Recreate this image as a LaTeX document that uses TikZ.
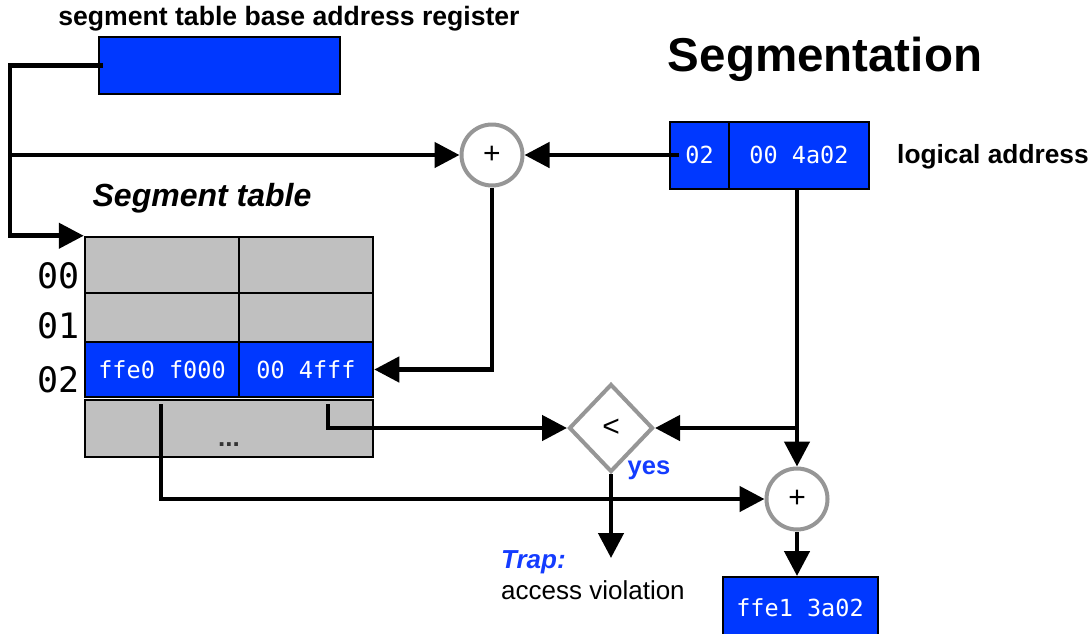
\documentclass[tikz,border=0pt]{standalone}
\usepackage{fontspec}
\setmainfont{Liberation Sans}
\newfontfamily\monof{DejaVu Sans Mono}
\usetikzlibrary{arrows.meta,shapes.geometric}
\definecolor{boxblue}{RGB}{0,56,255}
\definecolor{txtblue}{RGB}{20,60,255}
\definecolor{cellgray}{RGB}{192,192,192}
\definecolor{ringgray}{RGB}{150,150,150}
\tikzset{
  bluebox/.style={draw=black, line width=2pt, fill=boxblue, inner sep=0pt, text=white, font=\monof\fontsize{23.5}{24}\selectfont},
  graycell/.style={draw=black, line width=2.5pt, fill=cellgray, inner sep=0pt},
  bluecell/.style={draw=black, line width=2.5pt, fill=boxblue, inner sep=0pt, text=white, font=\monof\fontsize{23.5}{24}\selectfont},
  ring/.style={circle, draw=ringgray, line width=4pt, fill=white, minimum size=61pt, inner sep=0pt, font=\fontsize{30}{30}\selectfont},
  diam/.style={diamond, draw=ringgray, line width=4pt, fill=white, minimum width=84pt, minimum height=88pt, inner sep=0pt, font=\fontsize{30}{30}\selectfont},
  conn/.style={line width=4.6pt, draw=black},
  arr/.style={conn, -{Triangle[length=25pt,width=25pt]}},
  rowlab/.style={anchor=east, inner sep=0pt, font=\monof\fontsize{35}{35}\selectfont},
}
\begin{document}
\begin{tikzpicture}[x=1pt,y=-1pt]
\clip (0,0) rectangle (1091,633);
\fill[white] (0,0) rectangle (1091,633);

% texts
\node[font=\bfseries\fontsize{26.6}{26.6}\selectfont] (ttl) at (289,19) {segment table base address register};
\node[font=\bfseries\fontsize{47.5}{47.5}\selectfont] (seg) at (825,59) {Segmentation};
\node[font=\bfseries\fontsize{26.3}{26.3}\selectfont, anchor=west, inner sep=0pt] (la) at (897,157) {logical address};
\node[font=\bfseries\itshape\fontsize{32}{32}\selectfont] (stt) at (202,198) {Segment table};

% base register
\node[bluebox, minimum width=241pt, minimum height=57pt] (reg) at (219.5,65.5) {};

% logical address
\node[bluebox, minimum width=60pt, minimum height=67pt] (a1) at (699.5,155) {02};
\node[bluebox, minimum width=140pt, minimum height=67pt] (a2) at (799,155) {00 4a02};

% segment table
\node[graycell, minimum width=154pt, minimum height=56pt] (r0a) at (162,265) {};
\node[graycell, minimum width=134pt, minimum height=56pt] (r0b) at (306,265) {};
\node[graycell, minimum width=154pt, minimum height=49pt] (r1a) at (162,317.5) {};
\node[graycell, minimum width=134pt, minimum height=49pt] (r1b) at (306,317.5) {};
\node[bluecell, minimum width=154pt, minimum height=55pt] (r2a) at (162,369.5) {ffe0 f000};
\node[bluecell, minimum width=134pt, minimum height=55pt] (r2b) at (306,369.5) {00 4fff};
\node[graycell, minimum width=288pt, minimum height=57pt] (r3) at (229,428.5) {};
\node[font=\bfseries\fontsize{26}{26}\selectfont, text=black!80] (dots) at (229,445) {...};

\node[rowlab] (l0) at (80,275.5) {00};
\node[rowlab] (l1) at (80,326) {01};
\node[rowlab] (l2) at (80,380) {02};

% operators
\node[ring] (c1) at (492,155) {+};
\node[diam] (dia) at (611,428) {<};
\node[ring] (c2) at (797,499) {+};

% result
\node[bluebox, minimum width=155pt, minimum height=62pt] (res) at (800,608) {ffe1 3a02};

\node[font=\bfseries\fontsize{25.5}{25.5}\selectfont, text=txtblue] (yes) at (649,470) {yes};
\node[font=\bfseries\itshape\fontsize{26}{26}\selectfont, text=txtblue, anchor=west, inner sep=0pt] (trap) at (501,562) {Trap:};
\node[font=\fontsize{26}{26}\selectfont, anchor=west, inner sep=0pt] (acc) at (501,590) {access violation};

% coordinates
\coordinate (regin) at (103,65.5);
\coordinate (k1) at (10,65.5);
\coordinate (k2) at (10,155);
\coordinate (a1in) at (679,155);
\coordinate (lim) at (328,404);
\coordinate (bas) at (161,404);
\coordinate (k3) at (c2.north |- dia.east);
\coordinate (trapend) at (611,558);

% connectors
\draw[arr] (regin) -- (k1) |- (r0a.north west);
\draw[arr] (k2) -- (c1.west);
\draw[arr] (a1in) -- (c1.east);
\draw[arr] (c1.south) |- (r2b.east);
\draw[arr] (lim) |- (dia.west);
\draw[arr] (bas) |- (c2.west);
\draw[arr] (c2.north |- a2.south) -- (c2.north);
\draw[arr] (k3) -- (dia.east);
\draw[arr] (c2.south) -- (c2.south |- res.north);
\draw[arr] (dia.south) -- (trapend);
\end{tikzpicture}
\end{document}
